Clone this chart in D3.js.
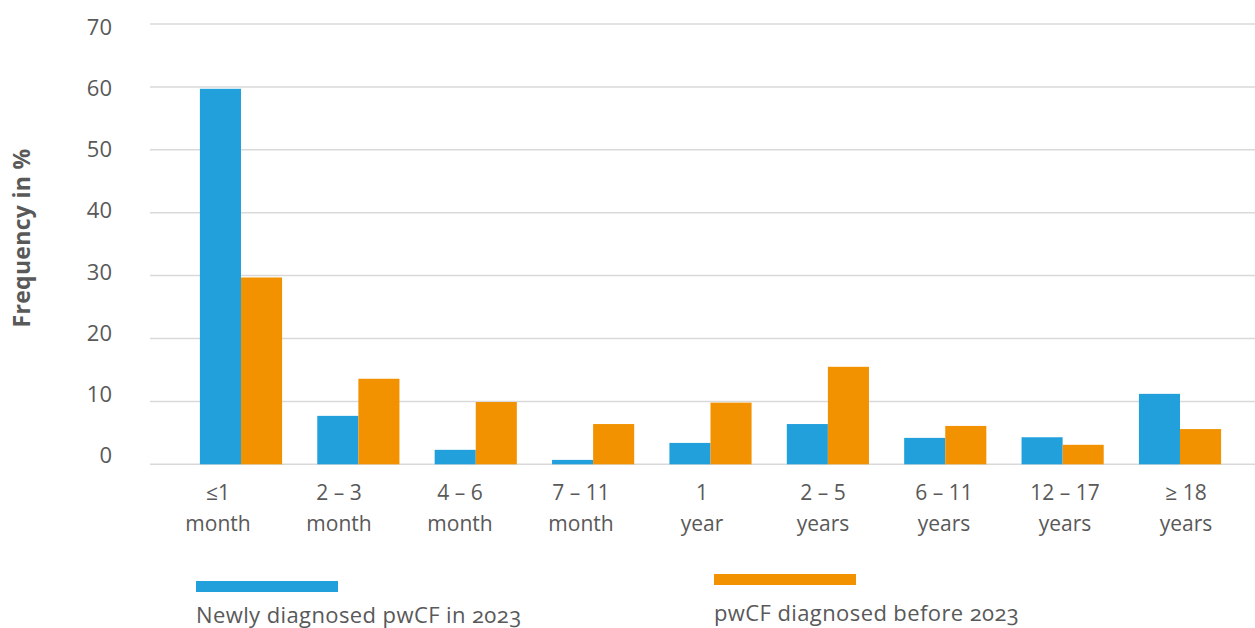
<!DOCTYPE html>
<html>
<head>
<meta charset="utf-8">
<script src="https://cdn.jsdelivr.net/npm/d3@7"></script>
<style>
  html, body { margin: 0; padding: 0; background: #fff; }
  svg text { font-family: "Open Sans", "Noto Sans", sans-serif; fill: #595959; }
</style>
</head>
<body>
<svg id="chart" width="1255" height="628"></svg>
<script>
// Age at diagnosis, frequency in %
const categories = ["≤1|month", "2 – 3|month", "4 – 6|month", "7 – 11|month", "1|year",
                    "2 – 5|years", "6 – 11|years", "12 – 17|years", "≥ 18|years"];
const newlyDiagnosed = [59.7, 7.7, 2.3, 0.7, 3.4, 6.4, 4.2, 4.3, 11.2];
const diagnosedBefore = [29.7, 13.6, 9.9, 6.4, 9.8, 15.5, 6.1, 3.1, 5.6];
const seriesNames = ["Newly diagnosed pwCF in 2023", "pwCF diagnosed before 2023"];
const seriesColors = ["#22a0dc", "#f29200"];
const yTicks = [0, 10, 20, 30, 40, 50, 60, 70];

const svg = d3.select("#chart");

const y = d3.scaleLinear().domain([0, 70]).range([464.3, 24]);
const yLabel = d3.scaleLinear().domain([0, 70]).range([455.5, 26.7]);

const x = d3.scaleBand().domain(categories).range([182.3, 1238.7])
  .paddingInner(0.3).paddingOuter(0.15);
const xSeries = d3.scaleBand().domain([0, 1]).range([0, x.bandwidth()]);
const xLabel = d3.scalePoint().domain(categories).range([218, 1186]);

// gridlines
svg.append("g").selectAll("line").data(yTicks).join("line")
  .attr("x1", 150).attr("x2", 1255)
  .attr("y1", d => y(d)).attr("y2", d => y(d))
  .attr("stroke", "#d9d9d9").attr("stroke-width", 1.5);

// y tick labels
svg.append("g").selectAll("text").data(yTicks).join("text")
  .attr("x", 112).attr("y", d => yLabel(d)).attr("dy", "0.36em")
  .attr("text-anchor", "end").style("font-size", "22px")
  .text(d => d);

// y title
svg.append("text")
  .attr("transform", "translate(30,238) rotate(-90)")
  .attr("text-anchor", "middle")
  .style("font-size", "23px").style("font-weight", "bold")
  .style("letter-spacing", "0.3px")
  .text("Frequency in %");

// bars
const series = [newlyDiagnosed, diagnosedBefore];
series.forEach((vals, si) => {
  svg.append("g").selectAll("rect").data(categories).join("rect")
    .attr("x", c => x(c) + xSeries(si))
    .attr("width", xSeries.bandwidth())
    .attr("y", (c, i) => y(vals[i]))
    .attr("height", (c, i) => y(0) - y(vals[i]))
    .attr("fill", seriesColors[si]);
});

// category labels (two lines)
const cat = svg.append("g").selectAll("text").data(categories).join("text")
  .attr("text-anchor", "middle").style("font-size", "21px");
cat.append("tspan").attr("x", c => xLabel(c)).attr("y", 500).text(c => c.split("|")[0]);
cat.append("tspan").attr("x", c => xLabel(c)).attr("y", 531).text(c => c.split("|")[1]);

// legend
const legend = [
  { x: 196, ry: 581, ty: 623 },
  { x: 714, ry: 574, ty: 621 }
];
legend.forEach((l, i) => {
  svg.append("rect").attr("x", l.x).attr("y", l.ry).attr("width", 142).attr("height", 11)
    .attr("fill", seriesColors[i]);
  svg.append("text").attr("x", l.x).attr("y", l.ty)
    .style("font-size", "22px").style("letter-spacing", "0.4px")
    .style("font-variant-numeric", "oldstyle-nums")
    .text(seriesNames[i]);
});
</script>
</body>
</html>
